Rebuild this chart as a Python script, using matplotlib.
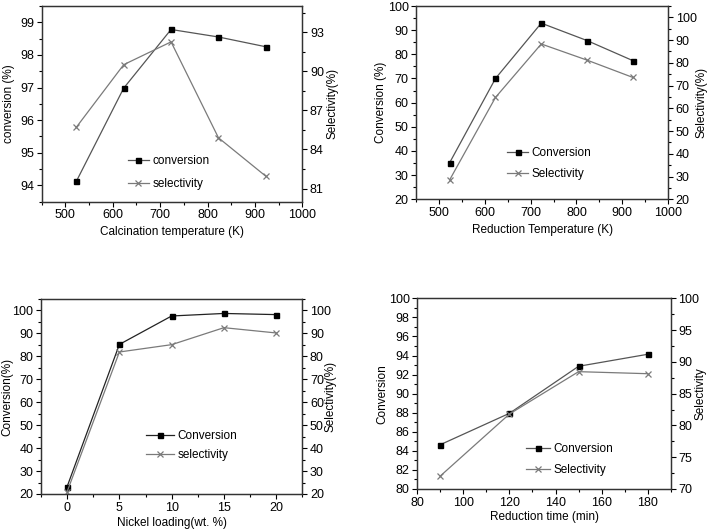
import matplotlib
matplotlib.use("Agg")
import matplotlib.pyplot as plt
from matplotlib.ticker import MultipleLocator, AutoMinorLocator

plt.rcParams['font.family'] = ['Liberation Sans', 'DejaVu Sans']
plt.rcParams['font.size'] = 8.5

# (a) calcination temperature
calc_T = [523, 623, 723, 823, 923]
calc_conv = [94.12, 96.98, 98.78, 98.55, 98.25]
calc_sel = [85.7, 90.5, 92.25, 84.9, 81.95]

# (b) reduction temperature
red_T = [523, 623, 723, 823, 923]
red_conv = [35.2, 70.0, 92.9, 85.7, 77.4]
red_sel = [28.6, 64.8, 88.3, 81.2, 73.6]

# (c) nickel loading
ni_load = [0, 5, 10, 15, 20]
ni_conv = [23.2, 85.2, 97.6, 98.7, 98.2]
ni_sel = [21.0, 81.9, 85.1, 92.5, 90.2]

# (d) reduction time
red_t = [90, 120, 150, 180]
time_conv = [84.65, 87.94, 92.87, 94.13]
time_sel = [72.05, 81.8, 88.46, 88.14]

LINE = '#555555'
SEL = '#7a7a7a'
W, H = 709, 531


def panel(fig, rect, x, conv, sel, xlim, xstep, ylim, ystep, y2lim, y2step,
          xlabel, ylabel, y2label, labels, leg_xy, label_off,
          handlelength=1.8, spacing=0.9, conv_color=LINE):
    ax = fig.add_axes(rect)
    ax2 = ax.twinx()
    l1, = ax.plot(x, conv, '-', color=conv_color, lw=0.9, marker='s', ms=3.6,
                  mfc='black', mec='black')
    l2, = ax2.plot(x, sel, '-', color=SEL, lw=0.9, marker='x', ms=5,
                   mec=SEL, mew=0.9)
    ax.set_xlim(*xlim)
    ax.set_ylim(*ylim)
    ax2.set_ylim(*y2lim)
    ax.xaxis.set_major_locator(MultipleLocator(xstep))
    ax.yaxis.set_major_locator(MultipleLocator(ystep))
    ax2.yaxis.set_major_locator(MultipleLocator(y2step))
    for a in (ax.xaxis, ax.yaxis, ax2.yaxis):
        a.set_minor_locator(AutoMinorLocator(2))
    ax.tick_params(which='both', direction='out', top=False, right=False)
    ax2.tick_params(which='both', direction='out')
    for a in (ax, ax2):
        a.tick_params(which='major', length=3.5, width=0.8, pad=2, labelsize=9)
        a.tick_params(which='minor', length=2, width=0.8)
        for s in a.spines.values():
            s.set_linewidth(0.9)
            s.set_color('#333333')
    ax.set_xlabel(xlabel)
    ax.set_ylabel(ylabel)
    ax2.set_ylabel(y2label)
    # label centres, in pixels away from the spines
    wpx = rect[2] * W
    hpx = rect[3] * H
    dx_bottom, dx_left, dx_right = label_off
    ax.xaxis.set_label_coords(0.5, -dx_bottom / hpx)
    ax.yaxis.set_label_coords(-dx_left / wpx, 0.5)
    ax2.yaxis.set_label_coords(1 + dx_right / wpx, 0.5)
    for lab in (ax.xaxis.label, ax.yaxis.label, ax2.yaxis.label):
        lab.set_va('center')
        lab.set_ha('center')
    ax.legend([l1, l2], labels, loc='lower left', bbox_to_anchor=leg_xy,
              frameon=False, handlelength=handlelength, handletextpad=0.3,
              labelspacing=spacing, borderaxespad=0, borderpad=0)
    return ax, ax2


fig = plt.figure(figsize=(7.09, 5.31), dpi=100)

panel(fig, [0.0588, 0.6202, 0.3676, 0.3685], calc_T, calc_conv, calc_sel,
      (450, 1000), 100, (93.5, 99.5), 1, (80, 95), 3,
      'Calcination temperature (K)', 'conversion (%)', 'Selectivity(%)',
      ['conversion', 'selectivity'], (0.33, 0.06), (30.6, 32.4, 30.5), 1.8, 0.95)

panel(fig, [0.5872, 0.6247, 0.355, 0.364], red_T, red_conv, red_sel,
      (450, 1000), 100, (20, 100), 10, (20, 105), 10,
      'Reduction Temperature (K)', 'Conversion (%)', 'Selectivity(%)',
      ['Conversion', 'Selectivity'], (0.36, 0.1), (30.7, 35.6, 33.7), 1.8, 0.75)

panel(fig, [0.0578, 0.0697, 0.3686, 0.3672], ni_load, ni_conv, ni_sel,
      (-2.5, 22.5), 5, (20, 105), 10, (20, 105), 10,
      'Nickel loading(wt. %)', 'Conversion(%)', 'Selectivity(%)',
      ['Conversion', 'selectivity'], (0.40, 0.17), (28.7, 34, 28.5), 2.4, 0.6,
      conv_color='#222222')

panel(fig, [0.5886, 0.0791, 0.3574, 0.3591], red_t, time_conv, time_sel,
      (80, 190), 20, (80, 100), 2, (70, 100), 5,
      'Reduction time (min)', 'Conversion', 'Selectivity',
      ['Conversion', 'Selectivity'], (0.43, 0.07), (28.3, 35, 30), 2.0, 0.75)

fig.savefig('out.png', dpi=100)
